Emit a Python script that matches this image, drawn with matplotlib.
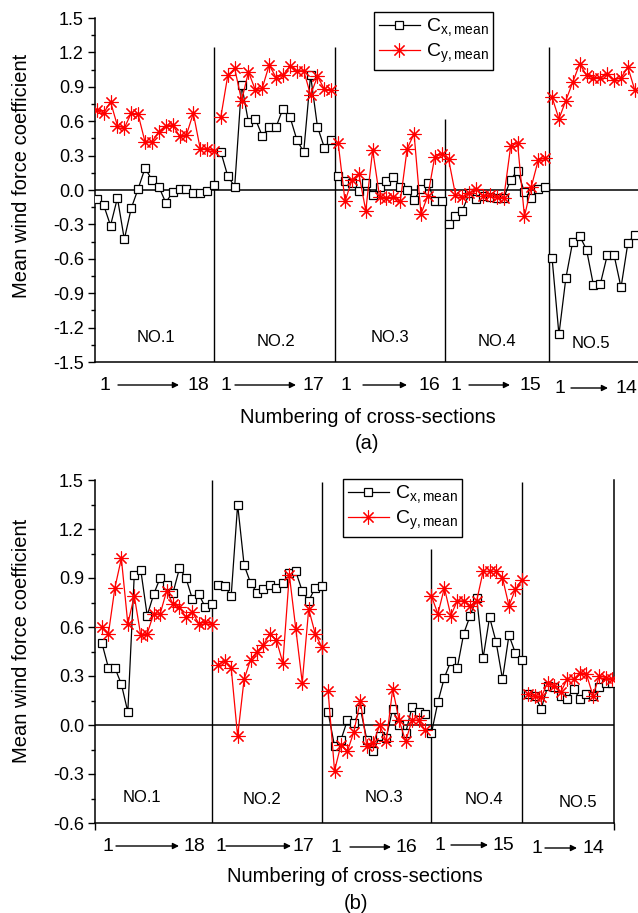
import matplotlib
matplotlib.use("Agg")
import matplotlib.pyplot as plt
from matplotlib.ticker import MultipleLocator, FuncFormatter

plt.rcParams["font.family"] = ["Liberation Sans", "DejaVu Sans"]
plt.rcParams["mathtext.fontset"] = "custom"
plt.rcParams["mathtext.rm"] = "Liberation Sans"
plt.rcParams["axes.unicode_minus"] = False

# ---- data (one list per section, per coefficient) ----
groups = ["NO.1", "NO.2", "NO.3", "NO.4", "NO.5"]
section_ranges = [("1", "18"), ("1", "17"), ("1", "16"), ("1", "15"), ("1", "14")]

# panel (a)
a_cx = [
    [-0.08, -0.13, -0.31, -0.07, -0.43, -0.16, 0.01, 0.19, 0.09, 0.03, -0.11, -0.02, 0.01, 0.01, -0.03, -0.03, -0.01, 0.04],
    [0.33, 0.12, 0.03, 0.92, 0.59, 0.62, 0.47, 0.55, 0.55, 0.71, 0.64, 0.44, 0.33, 1.00, 0.55, 0.37, 0.44],
    [0.12, 0.08, 0.06, -0.01, 0.06, -0.04, 0.03, 0.08, 0.11, 0.03, 0.00, -0.09, 0.01, 0.06, -0.10, -0.10],
    [-0.30, -0.23, -0.18, -0.03, -0.08, -0.05, -0.06, -0.07, -0.07, 0.09, 0.17, -0.02, -0.07, 0.01, 0.03],
    [-0.59, -1.26, -0.77, -0.45, -0.40, -0.52, -0.83, -0.82, -0.57, -0.57, -0.85, -0.46, -0.39],
]
a_cy = [
    [0.70, 0.67, 0.77, 0.56, 0.54, 0.67, 0.66, 0.42, 0.42, 0.51, 0.56, 0.57, 0.47, 0.48, 0.67, 0.36, 0.36, 0.34],
    [0.64, 1.00, 1.06, 0.78, 1.03, 0.87, 0.89, 1.09, 0.98, 1.00, 1.08, 1.04, 1.04, 0.83, 0.99, 0.88, 0.87],
    [0.41, -0.10, 0.09, 0.14, -0.18, 0.35, -0.06, -0.07, -0.06, -0.10, 0.36, 0.49, -0.21, -0.05, 0.29, 0.31],
    [0.27, -0.04, -0.06, -0.03, 0.01, -0.05, -0.04, -0.06, -0.07, 0.38, 0.41, -0.23, 0.03, 0.26, 0.28],
    [0.81, 0.62, 0.78, 0.94, 1.10, 1.00, 0.98, 0.98, 1.01, 0.96, 0.98, 1.07, 0.87],
]
a_start = [0, 18, 35, 51, 66]          # index of the first section of each model
a_dividers = [17, 34.5, 50.5, 65.5]
a_divider_tops = [1.25, 1.25, 0.62, 1.25]

# panel (b)
b_cx = [
    [0.50, 0.35, 0.35, 0.25, 0.08, 0.92, 0.95, 0.67, 0.80, 0.90, 0.86, 0.81, 0.96, 0.90, 0.77, 0.80, 0.72, 0.74],
    [0.86, 0.85, 0.79, 1.35, 0.98, 0.87, 0.81, 0.83, 0.86, 0.84, 0.87, 0.93, 0.94, 0.82, 0.76, 0.84, 0.85],
    [0.08, -0.13, -0.09, 0.03, 0.01, 0.10, -0.09, -0.16, -0.07, -0.08, 0.10, 0.00, -0.05, 0.11, 0.08, 0.07],
    [-0.05, 0.14, 0.29, 0.39, 0.35, 0.56, 0.67, 0.78, 0.41, 0.66, 0.51, 0.28, 0.55, 0.44, 0.40],
    [0.19, 0.18, 0.10, 0.24, 0.23, 0.18, 0.16, 0.22, 0.16, 0.19, 0.18, 0.23, 0.26, 0.26],
]
b_cy = [
    [0.60, 0.56, 0.84, 1.02, 0.62, 0.79, 0.55, 0.56, 0.68, 0.68, 0.82, 0.74, 0.72, 0.66, 0.69, 0.62, 0.63, 0.62],
    [0.37, 0.39, 0.35, -0.07, 0.28, 0.40, 0.45, 0.49, 0.56, 0.52, 0.38, 0.92, 0.59, 0.26, 0.71, 0.56, 0.48],
    [0.21, -0.28, -0.12, -0.16, -0.04, 0.15, -0.13, -0.11, 0.00, -0.10, 0.22, 0.03, -0.10, 0.03, 0.03, -0.03],
    [0.79, 0.68, 0.84, 0.67, 0.76, 0.76, 0.73, 0.76, 0.94, 0.94, 0.94, 0.90, 0.73, 0.83, 0.89],
    [0.19, 0.18, 0.17, 0.26, 0.24, 0.20, 0.28, 0.28, 0.32, 0.31, 0.18, 0.30, 0.29, 0.28],
]
b_start = [0, 18, 35, 51, 66]
b_dividers = [17, 34, 51, 65]
b_divider_tops = [1.5, 1.49, 1.08, 1.49]

W, H = 638, 913
fig = plt.figure(figsize=(W / 100, H / 100), dpi=100)


def rect(left, top, right, bottom):
    return [left / W, 1 - bottom / H, (right - left) / W, (bottom - top) / H]


def fpos(x, y):
    return (x / W, 1 - y / H)


def fmt_tick(v, _pos):
    s = f"{v:.1f}"
    return "0.0" if s == "-0.0" else s


def draw_panel(ax, cx, cy, starts, dividers, tops, ylim, xlim):
    for i in range(len(groups)):
        xs = [starts[i] + j for j in range(len(cx[i]))]
        ax.plot(xs, cx[i], color="black", lw=0.9, marker="s", ms=6,
                mfc="white", mec="black", mew=0.9, zorder=3,
                label=r"C$_{\mathregular{x,mean}}$" if i == 0 else None)
        xs = [starts[i] + j for j in range(len(cy[i]))]
        ax.plot(xs, cy[i], color="red", lw=0.9, marker=(8, 2, 0), ms=10,
                mec="red", mew=0.8, zorder=4,
                label=r"C$_{\mathregular{y,mean}}$" if i == 0 else None)
    ax.axhline(0, color="black", lw=1.1, zorder=2)
    for d, t in zip(dividers, tops):
        ax.vlines(d, ylim[0], t, color="black", lw=1.0, zorder=2)
    ax.set_xlim(*xlim)
    ax.set_ylim(*ylim)
    ax.yaxis.set_major_locator(MultipleLocator(0.3))
    ax.yaxis.set_minor_locator(MultipleLocator(0.15))
    ax.yaxis.set_major_formatter(FuncFormatter(fmt_tick))
    ax.tick_params(axis="y", which="major", direction="out", length=5, width=1, labelsize=13, pad=3)
    ax.tick_params(axis="y", which="minor", direction="out", length=3, width=1)
    ax.spines["top"].set_visible(False)
    for s in ["left", "bottom", "right"]:
        ax.spines[s].set_linewidth(1.1)


def add_legend(ax, x, y):
    leg = ax.legend(loc="upper left", bbox_to_anchor=fpos(x, y), bbox_transform=fig.transFigure,
                    fontsize=14, frameon=True, fancybox=False, edgecolor="black", framealpha=1,
                    handlelength=2.1, handletextpad=0.3, borderpad=0.25, labelspacing=0.15,
                    borderaxespad=0)
    leg.get_frame().set_linewidth(1.0)


# ---- panel (a) ----
ax1 = fig.add_axes(rect(95, 18, 650, 362))
draw_panel(ax1, a_cx, a_cy, a_start, a_dividers, a_divider_tops, (-1.5, 1.5), (-0.25, 80.2))
ax1.set_xticks([])
ax1.spines["right"].set_visible(False)
add_legend(ax1, 374, 12)

# ---- panel (b) ----
ax2 = fig.add_axes(rect(95, 480, 614, 823))
draw_panel(ax2, b_cx, b_cy, b_start, b_dividers, b_divider_tops, (-0.6, 1.5), (-1.08, 79.26))
ax2.set_xticks([-1.08, 79.26])
ax2.set_xticklabels([])
ax2.tick_params(axis="x", direction="out", length=5, width=1)
add_legend(ax2, 343, 479)

# ---- model names inside the panels ----
a_name_pos = [(156, 338), (276, 341), (390, 338), (497, 342), (591, 343)]
b_name_pos = [(142, 797), (262, 800), (384, 797), (484, 800), (578, 802)]
for name, (x, y) in zip(groups, a_name_pos):
    fig.text(*fpos(x, y), name, fontsize=12, ha="center", va="center")
for name, (x, y) in zip(groups, b_name_pos):
    fig.text(*fpos(x, y), name, fontsize=12, ha="center", va="center")

# ---- "1 ---> n" section numbering under each model ----
a_arrows = [(105, 118, 179, 198, 385), (226, 235, 296, 313, 385), (346, 363, 407, 429, 385),
            (456, 469, 510, 530, 385), (560, 571, 608, 626, 388)]
b_arrows = [(108, 116, 179, 194, 846), (221, 226, 291, 303, 846), (336, 350, 391, 406, 847),
            (440, 451, 488, 503, 845), (537, 545, 577, 593, 848)]
for arrows in (a_arrows, b_arrows):
    for (lo, hi), (x1, a0, a1, x2, y) in zip(section_ranges, arrows):
        fig.text(*fpos(x1, y), lo, fontsize=14, ha="center", va="center")
        fig.text(*fpos(x2, y), hi, fontsize=14, ha="center", va="center")
        ax1.annotate("", xy=fpos(a1, y), xytext=fpos(a0, y), xycoords="figure fraction",
                     annotation_clip=False,
                     arrowprops=dict(arrowstyle="-|>", color="black", lw=1.0,
                                     mutation_scale=9, shrinkA=0, shrinkB=0))

# ---- axis titles ----
fig.text(*fpos(368, 417), "Numbering of cross-sections", fontsize=14.5, ha="center", va="center")
fig.text(*fpos(367, 443), "(a)", fontsize=14.5, ha="center", va="center")
fig.text(*fpos(355, 876), "Numbering of cross-sections", fontsize=14.5, ha="center", va="center")
fig.text(*fpos(356, 903), "(b)", fontsize=14.5, ha="center", va="center")
fig.text(*fpos(22, 176), "Mean wind force coefficient", fontsize=14.5, ha="center", va="center", rotation=90)
fig.text(*fpos(22, 641), "Mean wind force coefficient", fontsize=14.5, ha="center", va="center", rotation=90)

fig.savefig("out.png", dpi=100)
